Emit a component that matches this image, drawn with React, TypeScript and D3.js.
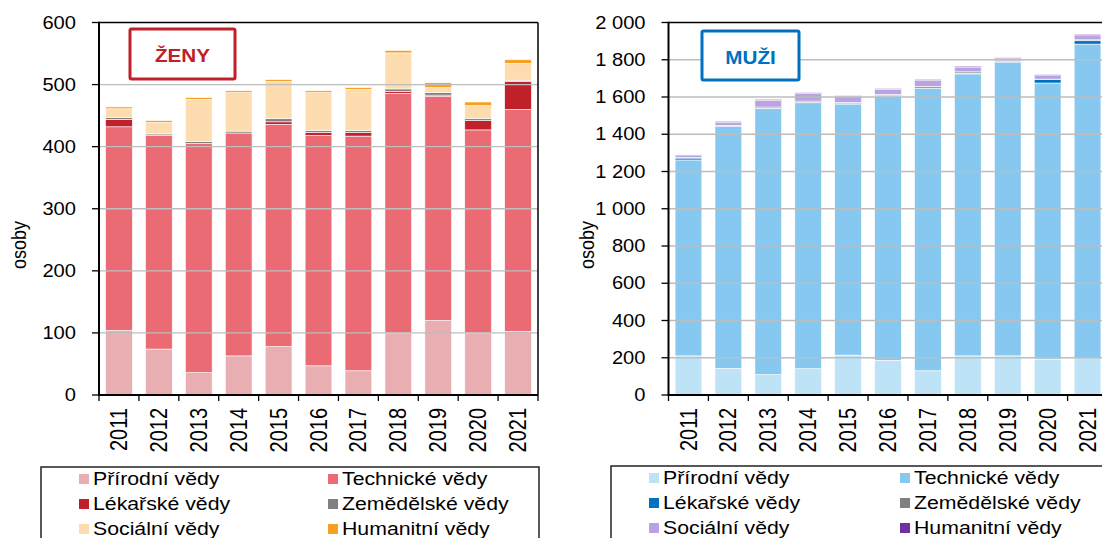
import React from 'react'
import * as d3 from 'd3'

// years on the x axis
const years = ['2011', '2012', '2013', '2014', '2015', '2016', '2017', '2018', '2019', '2020', '2021']
const fields = ['Přírodní vědy', 'Technické vědy', 'Lékařské vědy', 'Zemědělské vědy', 'Sociální vědy', 'Humanitní vědy']

// ŽENY (women)
const zenyPrir = [104, 74, 36, 63, 78, 47, 39, 100, 120, 100, 102]
const zenyTech = [328, 344, 369, 359, 358, 371, 378, 386, 361, 327, 358]
const zenyLek = [12, 1, 0, 0, 4, 5, 6, 3, 2, 15, 45]
const zenyZem = [3, 2, 3, 3, 5, 3, 3, 4, 4, 3, 2]
const zenySoc = [14, 18, 68, 62, 60, 61, 66, 58, 8, 21, 27]
const zenyHum = [3, 3, 3, 3, 3, 3, 3, 4, 8, 6, 6]

// MUŽI (men)
const muziPrir = [210, 143, 109, 141, 214, 186, 130, 210, 210, 193, 200]
const muziTech = [1052, 1299, 1428, 1428, 1348, 1419, 1516, 1514, 1576, 1482, 1684]
const muziLek = [10, 2, 2, 2, 2, 2, 2, 4, 5, 18, 18]
const muziZem = [3, 3, 7, 7, 7, 7, 9, 7, 3, 3, 5]
const muziSoc = [14, 17, 36, 41, 34, 28, 32, 26, 12, 19, 22]
const muziHum = [3, 5, 5, 4, 4, 4, 5, 5, 5, 5, 7]

const zenyTicks = [0, 100, 200, 300, 400, 500, 600]
const muziTicks = [0, 200, 400, 600, 800, 1000, 1200, 1400, 1600, 1800, 2000]

const zenyColors = ['#E8AEB2', '#EA6B73', '#C0202A', '#808080', '#FDDDB0', '#F7A024']
const muziColors = ['#BEE3F7', '#87C8F0', '#0070C0', '#808080', '#B9A3E3', '#7030A0']

const FONT = "'Liberation Sans', Arial, sans-serif"
const SX = 1.15 // the picture is a bit stretched sideways

const fmt = d3.formatLocale({ decimal: ',', thousands: ' ', grouping: [3], currency: ['', ''] }).format(',')

function T({ x, y, size, rot, anchor, children, weight, fill }: any) {
  const tr = `translate(${x},${y}) scale(${SX},1)` + (rot ? ` rotate(${rot})` : '')
  return (
    <text transform={tr} fontSize={size} textAnchor={anchor || 'start'} dy="0.35em"
      fontFamily={FONT} fontWeight={weight || 'normal'} fill={fill || '#000'}>{children}</text>
  )
}

function Chart({ series, colors, ticks, left, title, titleColor, box, legend, ylabelX }: any) {
  const top = 22.5
  const bottom = 395
  const width = 439
  const x = d3.scaleBand().domain(years).range([left, left + width]).paddingInner(0.33).paddingOuter(0.165)
  const y = d3.scaleLinear().domain([0, ticks[ticks.length - 1]]).range([bottom, top])
  const rows = years.map((yr, i) => {
    const r: any = { year: yr }
    fields.forEach((f, k) => { r[f] = series[k][i] })
    return r
  })
  const stacked = d3.stack().keys(fields)(rows)
  const step = x.step()

  return (
    <g>
      {stacked.map((layer, k) => (
        <g key={k} fill={colors[k]}>
          {layer.map((d: any, i) => (
            <rect key={i} x={x(years[i])} width={x.bandwidth()} y={y(d[1])}
              height={Math.max(0, y(d[0]) - y(d[1]))} stroke="#fff" strokeWidth={0.6} />
          ))}
        </g>
      ))}
      {/* gridlines */}
      {ticks.slice(1, -1).map((t: number) => (
        <line key={t} x1={left} x2={left + width} y1={y(t)} y2={y(t)} stroke="#BDBDBD" strokeWidth={1.4} />
      ))}
      {/* frame */}
      <line x1={left} x2={left + width} y1={top} y2={top} stroke="#000" strokeWidth={1.5} />
      <line x1={left + width} x2={left + width} y1={top} y2={bottom} stroke="#000" strokeWidth={1.5} />
      <line x1={left} x2={left} y1={top - 0.7} y2={bottom + 1} stroke="#000" strokeWidth={2} />
      <line x1={left} x2={left + width} y1={bottom} y2={bottom} stroke="#000" strokeWidth={2} />
      {/* y ticks */}
      {ticks.map((t: number) => (
        <g key={t}>
          <line x1={left - 7} x2={left} y1={y(t)} y2={y(t)} stroke="#000" strokeWidth={1.3} />
          <T x={left - 23} y={y(t)} size={17.5} anchor="end">{fmt(t)}</T>
        </g>
      ))}
      {/* x ticks */}
      {d3.range(years.length + 1).map(k => (
        <line key={k} x1={left + k * step} x2={left + k * step} y1={bottom} y2={bottom + 6} stroke="#000" strokeWidth={1.3} />
      ))}
      {years.map(yr => (
        <T key={yr} x={(x(yr) as number) + x.bandwidth() / 2} y={408} size={20} rot={-90} anchor="end">{yr}</T>
      ))}
      <T x={ylabelX} y={245} size={18} rot={-90} anchor="middle">osoby</T>
      {/* title box */}
      <rect x={box[0]} y={box[1]} width={box[2]} height={box[3]} fill="#fff" stroke={titleColor} strokeWidth={3} rx={1.5} />
      <text transform={`translate(${box[0] + box[2] / 2},${box[1] + 33}) scale(${SX},1)`} textAnchor="middle"
        fontFamily={FONT} fontWeight="bold" fontSize={18} fill={titleColor}>{title}</text>
      {/* legend */}
      <rect x={legend.x} y={legend.y} width={legend.w} height={120} fill="none" stroke="#222" strokeWidth={1.5} />
      {fields.map((f, k) => {
        const col = k % 2
        const row = Math.floor(k / 2)
        const sx = legend.cols[col]
        const cy = legend.rowY + row * 25
        return (
          <g key={f}>
            <rect x={sx} y={cy - 5} width={10} height={10} fill={colors[k]} />
            <T x={sx + 14} y={cy} size={18.5}>{f}</T>
          </g>
        )
      })}
    </g>
  )
}

export default function App() {
  return (
    <svg width={1102} height={538} style={{ position: 'absolute', left: 0, top: 0, background: '#fff' }}>
      <Chart series={[zenyPrir, zenyTech, zenyLek, zenyZem, zenySoc, zenyHum]} colors={zenyColors}
        ticks={zenyTicks} left={99} title="ŽENY" titleColor="#C0202A" box={[130, 29, 105, 50]}
        legend={{ x: 41, y: 467, w: 498, cols: [79, 328], rowY: 479 }} ylabelX={19} />
      <Chart series={[muziPrir, muziTech, muziLek, muziZem, muziSoc, muziHum]} colors={muziColors}
        ticks={muziTicks} left={668.5} title="MUŽI" titleColor="#0070C0" box={[702, 31, 97, 49]}
        legend={{ x: 611, y: 466, w: 520, cols: [649, 900], rowY: 478 }} ylabelX={587} />
    </svg>
  )
}
